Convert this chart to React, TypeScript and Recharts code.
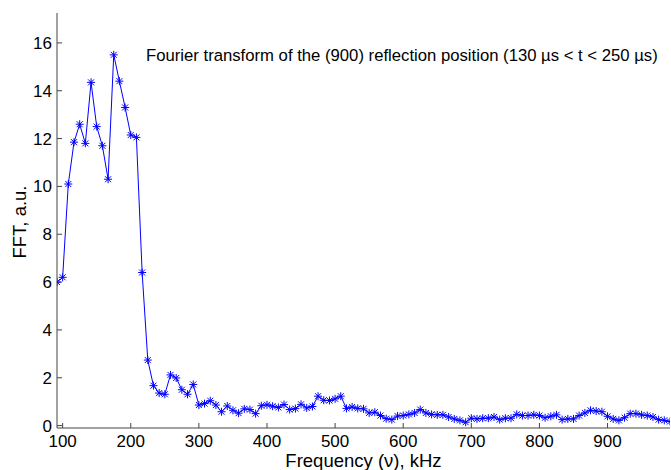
import React from 'react'
import { LineChart, Line, XAxis, YAxis } from 'recharts'

// bin centres of the FFT, kHz (window of 120 µs -> 8.33 kHz steps)
const freqKHz = [
  91.7, 100, 108.3, 116.7, 125, 133.3, 141.7, 150, 158.3, 166.7,
  175, 183.3, 191.7, 200, 208.3, 216.7, 225, 233.3, 241.7, 250,
  258.3, 266.7, 275, 283.3, 291.7, 300, 308.3, 316.7, 325, 333.3,
  341.7, 350, 358.3, 366.7, 375, 383.3, 391.7, 400, 408.3, 416.7,
  425, 433.3, 441.7, 450, 458.3, 466.7, 475, 483.3, 491.7, 500,
  508.3, 516.7, 525, 533.3, 541.7, 550, 558.3, 566.7, 575, 583.3,
  591.7, 600, 608.3, 616.7, 625, 633.3, 641.7, 650, 658.3, 666.7,
  675, 683.3, 691.7, 700, 708.3, 716.7, 725, 733.3, 741.7, 750,
  758.3, 766.7, 775, 783.3, 791.7, 800, 808.3, 816.7, 825, 833.3,
  841.7, 850, 858.3, 866.7, 875, 883.3, 891.7, 900, 908.3, 916.7,
  925, 933.3, 941.7, 950, 958.3, 966.7, 975, 983.3, 991.7,
]

const fftAmp = [
  6.0, 6.2, 10.1, 11.85, 12.6, 11.8, 14.35, 12.5, 11.7, 10.3,
  15.5, 14.4, 13.3, 12.15, 12.05, 6.4, 2.74, 1.67, 1.36, 1.31,
  2.12, 1.99, 1.5, 1.31, 1.72, 0.86, 0.92, 1.04, 0.86, 0.58,
  0.82, 0.64, 0.52, 0.7, 0.67, 0.5, 0.83, 0.87, 0.81, 0.76,
  0.88, 0.67, 0.71, 0.89, 0.74, 0.8, 1.23, 1.06, 1.05, 1.12,
  1.23, 0.72, 0.78, 0.72, 0.7, 0.53, 0.56, 0.42, 0.29, 0.25,
  0.4, 0.42, 0.47, 0.53, 0.67, 0.53, 0.47, 0.45, 0.45, 0.36,
  0.28, 0.22, 0.14, 0.31, 0.28, 0.31, 0.31, 0.36, 0.25, 0.31,
  0.31, 0.47, 0.42, 0.42, 0.45, 0.42, 0.33, 0.39, 0.45, 0.25,
  0.28, 0.28, 0.42, 0.53, 0.64, 0.61, 0.58, 0.39, 0.28, 0.22,
  0.33, 0.5, 0.5, 0.45, 0.42, 0.36, 0.25, 0.22, 0.17,
]

const xTicks = [100, 200, 300, 400, 500, 600, 700, 800, 900]
const yTicks = [0, 2, 4, 6, 8, 10, 12, 14, 16]

const title = 'Fourier transform of the (900) reflection position (130 µs < t < 250 µs)'

const data = freqKHz.map((f, i) => ({ f, v: fftAmp[i] }))

const axisColor = '#444'
const tickFont = { fill: '#000', fontSize: 17 }

// matlab-style '*' marker
function Star({ cx, cy }: { cx?: number; cy?: number }) {
  if (cx == null || cy == null) return null
  const a = 4
  const d = 3
  return (
    <g stroke="#0000ff" strokeWidth={1}>
      <line x1={cx - a} y1={cy} x2={cx + a} y2={cy} />
      <line x1={cx} y1={cy - a} x2={cx} y2={cy + a} />
      <line x1={cx - d} y1={cy - d} x2={cx + d} y2={cy + d} />
      <line x1={cx - d} y1={cy + d} x2={cx + d} y2={cy - d} />
    </g>
  )
}

export default function App() {
  return (
    <div
      style={{
        position: 'absolute',
        left: 0,
        top: 0,
        width: 671,
        height: 470,
        background: '#fff',
        fontFamily: '"Liberation Sans", Arial, sans-serif',
      }}
    >
      <LineChart width={671} height={470} data={data} margin={{ top: 13, right: 1, bottom: 0, left: 0 }}>
        <XAxis
          xAxisId="b"
          dataKey="f"
          type="number"
          domain={[91.7, 991.7]}
          ticks={xTicks}
          allowDataOverflow
          height={42}
          tickSize={-5}
          tickMargin={12}
          stroke={axisColor}
          tick={tickFont}
          label={{ value: 'Frequency (ν), kHz', position: 'insideBottom', offset: 3, fill: '#000', fontSize: 18.5 }}
        />
        <XAxis
          xAxisId="t"
          dataKey="f"
          type="number"
          orientation="top"
          domain={[91.7, 991.7]}
          ticks={xTicks}
          allowDataOverflow
          height={0}
          tickSize={-5}
          stroke={axisColor}
          tickFormatter={() => ''}
        />
        <YAxis
          yAxisId="l"
          type="number"
          domain={[-0.1, 17.25]}
          ticks={yTicks}
          allowDataOverflow
          width={57}
          tickSize={-5}
          tickMargin={10}
          stroke={axisColor}
          tick={tickFont}
          label={{
            content: () => (
              <text transform="translate(25.5,222) rotate(-90)" textAnchor="middle" fontSize={18.5} fill="#000">
                FFT, a.u.
              </text>
            ),
          }}
        />
        <YAxis
          yAxisId="r"
          type="number"
          orientation="right"
          domain={[-0.1, 17.25]}
          ticks={yTicks}
          allowDataOverflow
          width={0}
          tickSize={-5}
          stroke={axisColor}
          tickFormatter={() => ''}
        />
        <Line
          xAxisId="b"
          yAxisId="l"
          type="linear"
          dataKey="v"
          stroke="#0000ff"
          strokeWidth={1}
          dot={(p: any) => <Star key={p.index} cx={p.cx} cy={p.cy} />}
          activeDot={false}
          isAnimationActive={false}
        />
      </LineChart>
      <svg width={671} height={470} style={{ position: 'absolute', left: 0, top: 0, pointerEvents: 'none' }}>
        <text x={146} y={61} fontSize={16.7} fill="#000">
          {title}
        </text>
      </svg>
    </div>
  )
}
